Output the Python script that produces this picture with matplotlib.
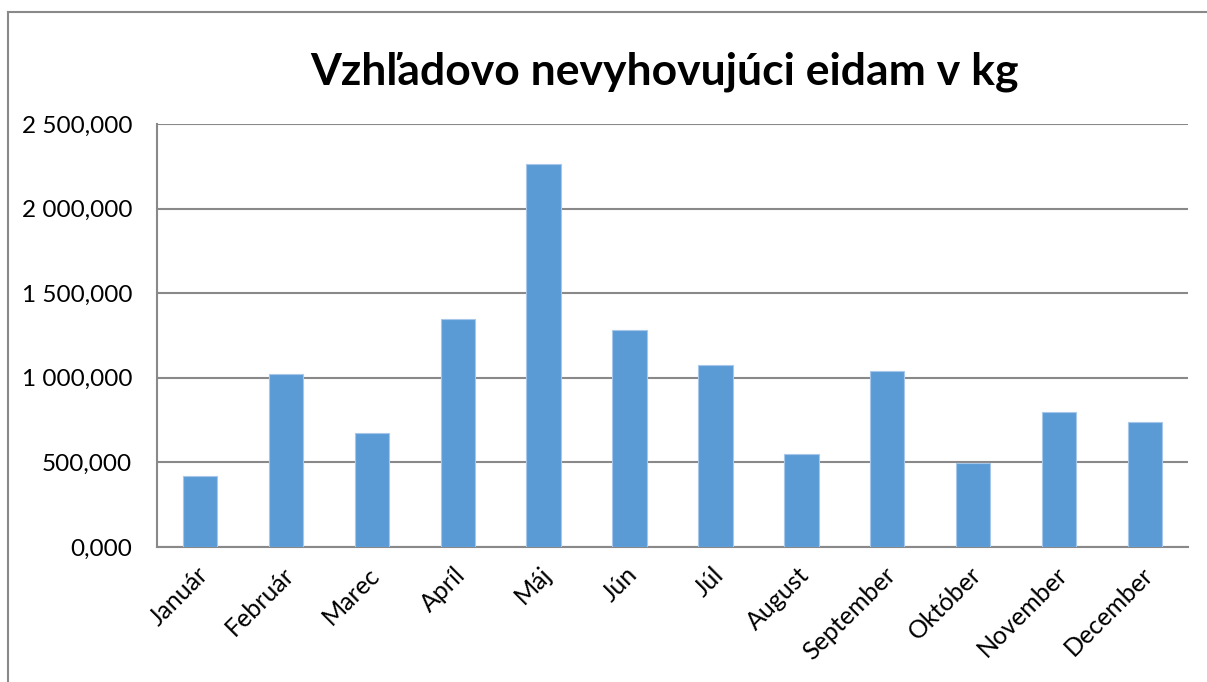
import matplotlib
matplotlib.use("Agg")
import matplotlib.pyplot as plt
from matplotlib.lines import Line2D
from matplotlib.ticker import FuncFormatter
from matplotlib.transforms import ScaledTranslation

# data (kg per month)
months = ["Január", "Február", "Marec", "Apríl", "Máj", "Jún",
          "Júl", "August", "September", "Október", "November", "December"]
values = [420, 1022, 672, 1350, 2264, 1283, 1076, 550, 1040, 497, 800, 741]

y_max = 2500
y_step = 500
title = "Vzhľadovo nevyhovujúci eidam v kg"

plt.rcParams['font.family'] = ['Lato', 'DejaVu Sans']

W, H = 1207, 682
fig = plt.figure(figsize=(W / 100, H / 100), dpi=100)

# plot area in pixel coords
left, top, right, bottom = 157, 124, 1188, 547
ax = fig.add_axes([left / W, 1 - bottom / H, (right - left) / W, (bottom - top) / H])

x = range(len(months))
ax.bar(x, values, width=0.4, color='#5B9BD5', edgecolor='#A7C7EA', linewidth=0.8, zorder=3)

ax.set_xlim(-0.5, len(months) - 0.5)
ax.set_ylim(0, y_max)
ax.set_yticks(range(0, y_max + 1, y_step))


def sk_fmt(v, pos):
    s = '{:,.3f}'.format(v)
    return s.replace(',', ' ').replace('.', ',')


ax.yaxis.set_major_formatter(FuncFormatter(sk_fmt))
ax.yaxis.grid(True, color='#898989', linewidth=1.5, zorder=0)
ax.set_axisbelow(True)

for side in ['top', 'right']:
    ax.spines[side].set_visible(False)
for side in ['left', 'bottom']:
    ax.spines[side].set_color('#898989')
    ax.spines[side].set_linewidth(1.5)

ax.tick_params(axis='y', length=0, pad=18, labelsize=17.5)
ax.tick_params(axis='x', length=0, pad=10, labelsize=18)
ax.set_xticks(list(x))
ax.set_xticklabels(months, rotation=45, ha='right', va='center', rotation_mode='anchor')
# nudge rotated labels so their end sits under the bar
shift = ScaledTranslation(4 / 100, -10 / 100, fig.dpi_scale_trans)
for lbl in ax.get_xticklabels():
    lbl.set_transform(lbl.get_transform() + shift)

fig.text(664 / W, 1 - 72 / H, title, ha='center', va='center',
         fontsize=32, fontweight='bold')

# chart frame (only left and top edges are in view)
fig.add_artist(Line2D([8 / W, 8 / W], [0, 1 - 12 / H], transform=fig.transFigure,
                      color='#898989', linewidth=1.5))
fig.add_artist(Line2D([8 / W, 1206 / W], [1 - 12 / H, 1 - 12 / H], transform=fig.transFigure,
                      color='#898989', linewidth=1.5))

fig.savefig('out.png', dpi=100)
